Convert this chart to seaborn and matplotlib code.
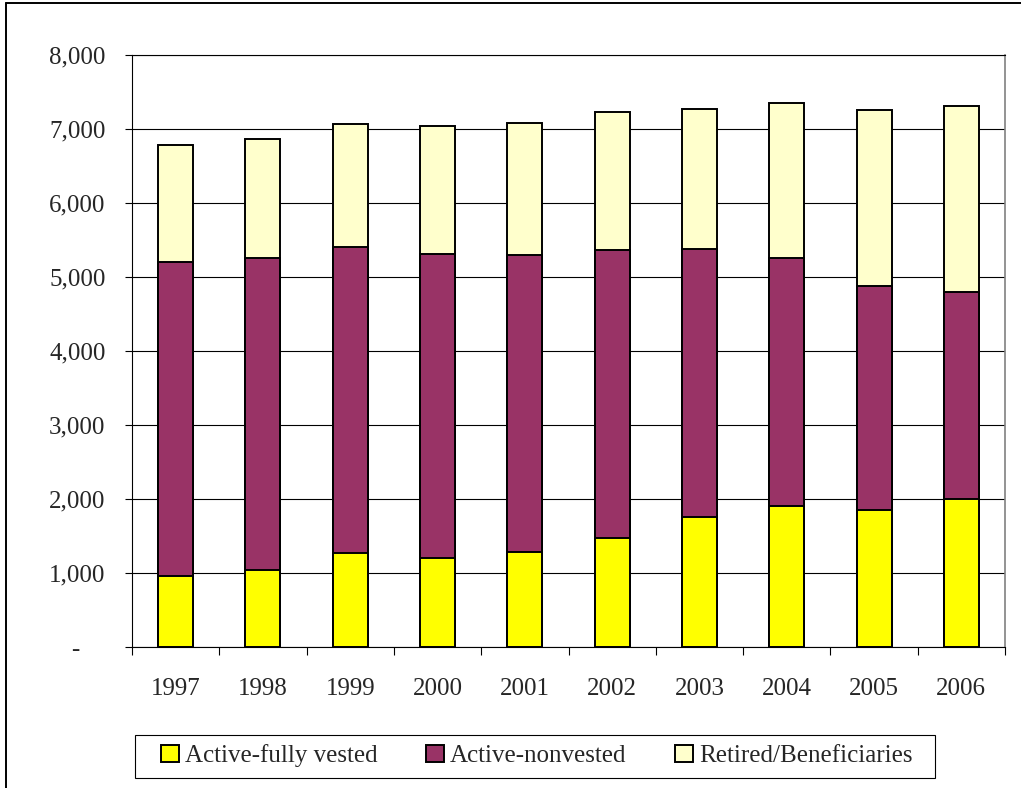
import matplotlib
matplotlib.use("Agg")
import matplotlib.pyplot as plt
from matplotlib.lines import Line2D
from matplotlib.patches import Patch, Rectangle
import matplotlib.ticker as mticker
import numpy as np
import pandas as pd
import seaborn as sns

# Participant counts by year
years = ["1997", "1998", "1999", "2000", "2001", "2002", "2003", "2004", "2005", "2006"]
active_vested = [960, 1040, 1270, 1200, 1280, 1470, 1760, 1905, 1850, 2000]
active_nonvested = [4240, 4215, 4135, 4110, 4020, 3895, 3620, 3350, 3030, 2800]
retired = [1580, 1610, 1660, 1730, 1780, 1865, 1890, 2095, 2375, 2510]

series_names = ["Active-fully vested", "Active-nonvested", "Retired/Beneficiaries"]
colors = ["#FFFF00", "#993366", "#FFFFCC"]

sns.set_style("white")
plt.rcParams["font.family"] = ["Liberation Serif", "DejaVu Serif"]

fig = plt.figure(figsize=(10.21, 7.88), dpi=100)
ax = fig.add_axes([132 / 1021, 1 - 647 / 788, (1005 - 132) / 1021, (647 - 55) / 788])

# Stacked bars: draw cumulative totals from the top layer down
df = pd.DataFrame({
    "year": years,
    "vested": active_vested,
    "nonvested": active_nonvested,
    "retired": retired,
})
df["cum1"] = df["vested"]
df["cum2"] = df["cum1"] + df["nonvested"]
df["cum3"] = df["cum2"] + df["retired"]

for col, colr in zip(["cum3", "cum2", "cum1"], colors[::-1]):
    sns.barplot(data=df, x="year", y=col, order=years, color=colr, saturation=1,
                width=0.40, edgecolor="black", linewidth=1.4, ax=ax, zorder=3)

ax.set_xlim(-0.5, 9.5)
ax.set_ylim(0, 8000)
ax.set_xlabel("")
ax.set_ylabel("")

# Y axis
ax.set_yticks(np.arange(0, 8001, 1000))
ax.yaxis.set_major_formatter(mticker.FuncFormatter(
    lambda v, p: "-    " if v == 0 else f"{int(v):,}"))
ax.yaxis.grid(True, color="black", linewidth=0.8, zorder=0)
ax.set_axisbelow(True)
ax.tick_params(axis="y", which="major", direction="out", length=5, width=0.8,
               color="black", pad=14, labelsize=18, left=True)

# X axis: labels centred on bars, tick marks between categories
ax.set_xticks(range(len(years)))
ax.set_xticklabels(years)
ax.set_xticks(np.arange(-0.5, 10, 1.0), minor=True)
ax.tick_params(axis="x", which="major", length=0, pad=22, labelsize=18)
ax.tick_params(axis="x", which="minor", direction="out", length=6, width=0.8,
               color="black", bottom=True)

for side in ["left", "bottom", "top"]:
    ax.spines[side].set_color("black")
    ax.spines[side].set_linewidth(0.8)
ax.spines["right"].set_color("#808080")
ax.spines["right"].set_linewidth(1.2)

# Legend box and entries
fig.add_artist(Rectangle((135 / 1021, 1 - 778 / 788), 800 / 1021, 43 / 788,
                         transform=fig.transFigure, facecolor="white",
                         edgecolor="black", linewidth=0.8))
handles = [Patch(facecolor=c, edgecolor="black", linewidth=1.4) for c in colors]
leg = fig.legend(handles, series_names, loc="center", bbox_to_anchor=(537 / 1021, 1 - 756 / 788),
                 ncol=3, frameon=False, fontsize=18,
                 handlelength=0.7, handleheight=0.7, handletextpad=0.25,
                 columnspacing=1.95, borderpad=0.35)

# Outer chart border (top and left edges)
fig.add_artist(Line2D([6 / 1021, 1], [1 - 3 / 788, 1 - 3 / 788], transform=fig.transFigure,
                      color="black", linewidth=1.4))
fig.add_artist(Line2D([6 / 1021, 6 / 1021], [0, 1 - 3 / 788], transform=fig.transFigure,
                      color="black", linewidth=1.4))

fig.savefig("out.png", dpi=100)
